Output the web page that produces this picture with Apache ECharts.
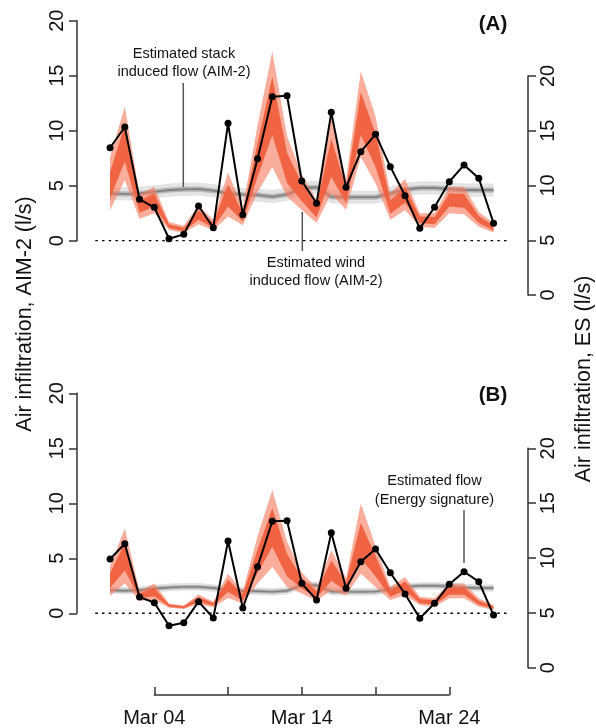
<!DOCTYPE html>
<html>
<head>
<meta charset="utf-8">
<script src="https://cdn.jsdelivr.net/npm/echarts@6/dist/echarts.min.js"></script>
<style>
html,body{margin:0;padding:0;background:#fff;}
#chart{width:596px;height:728px;}
</style>
</head>
<body>
<div id="chart"></div>
<script>
// ---- data ----
const dayLabels = ['Mar 01','Mar 02','Mar 03','Mar 04','Mar 05','Mar 06','Mar 07','Mar 08','Mar 09','Mar 10','Mar 11','Mar 12','Mar 13','Mar 14','Mar 15','Mar 16','Mar 17','Mar 18','Mar 19','Mar 20','Mar 21','Mar 22','Mar 23','Mar 24','Mar 25','Mar 26','Mar 27'];
const dayOfMonth = [1,2,3,4,5,6,7,8,9,10,11,12,13,14,15,16,17,18,19,20,21,22,23,24,25,26,27];
const xTicks = [4,9,14,19,24];
const xTickLabels = {4:'Mar 04', 14:'Mar 14', 24:'Mar 24'};
const yTicks = [0,5,10,15,20];
const plotRangeX = [0, 28];

// Panel A
const esA = [13.45,15.34,8.74,8.01,5.14,5.54,8.13,6.15,15.68,7.33,12.45,18.11,18.2,10.41,8.37,16.68,9.84,13.09,14.67,11.72,9.07,6.09,8.01,10.35,11.87,10.66,6.55];
const stackMedA = [4.3,4.25,4.3,4.45,4.6,4.67,4.7,4.55,4.3,4.2,4.15,4.0,4.2,4.8,4.85,4.0,3.95,3.95,3.95,4.3,4.65,4.8,4.8,4.7,4.6,4.6,4.6];
const stackLoA  = [3.7,3.65,3.7,3.85,4.0,4.07,4.1,3.95,3.7,3.6,3.55,3.4,3.6,4.2,4.25,3.4,3.35,3.35,3.35,3.7,4.05,4.2,4.2,4.1,4.0,4.0,4.0];
const stackHiA  = [4.9,4.85,4.9,5.05,5.2,5.27,5.3,5.15,4.9,4.8,4.75,4.6,4.8,5.4,5.45,4.6,4.55,4.55,4.55,4.9,5.25,5.4,5.4,5.3,5.2,5.2,5.2];
const windLoA   = [2.8,5.5,2.0,2.5,0.97,0.7,1.5,0.95,2.2,1.4,4.4,6.7,4.0,2.8,1.6,4.3,2.8,7.6,5.2,1.9,2.8,1.27,1.15,2.5,2.4,1.27,0.75];
const windHiA   = [7.6,12.2,4.2,4.9,1.7,1.35,3.2,1.9,6.2,3.0,10.5,17.2,9.5,6.0,3.7,11.3,5.5,15.4,11.3,4.3,5.6,2.5,2.5,4.9,4.9,2.6,1.6];
const windInLoA = [3.85,7.2,2.55,3.1,1.15,0.85,1.9,1.18,3.1,1.75,5.8,9.6,5.25,3.6,2.1,5.8,3.45,9.6,6.7,2.45,3.45,1.6,1.5,3.1,3.0,1.6,0.92];
const windInHiA = [6.25,10.5,3.65,4.3,1.5,1.18,2.75,1.65,5.1,2.55,8.85,14.85,8.0,5.2,3.15,9.3,4.8,13.5,9.75,3.65,4.85,2.2,2.15,4.3,4.25,2.25,1.35];

// Panel B
const esB = [9.91,11.3,6.44,5.93,3.83,4.10,6.02,4.53,11.55,5.44,9.21,13.35,13.4,7.69,6.17,12.31,7.24,9.66,10.82,8.66,6.72,4.5,5.87,7.6,8.75,7.84,4.8];
const stackMedB = [2.1,2.05,2.1,2.25,2.35,2.4,2.4,2.3,2.1,2.05,2.0,1.95,2.05,2.55,2.55,1.97,1.95,1.95,1.97,2.2,2.4,2.5,2.5,2.45,2.35,2.3,2.3];
const stackLoB  = [1.75,1.7,1.75,1.9,2.0,2.05,2.05,1.95,1.75,1.7,1.65,1.6,1.7,2.2,2.2,1.62,1.6,1.6,1.62,1.85,2.05,2.15,2.15,2.1,2.0,1.95,1.95];
const stackHiB  = [2.45,2.4,2.45,2.6,2.7,2.75,2.75,2.65,2.45,2.4,2.35,2.3,2.4,2.9,2.9,2.32,2.3,2.3,2.32,2.55,2.75,2.85,2.85,2.8,2.7,2.65,2.65];
const windLoB   = [1.6,2.7,1.15,1.2,0.5,0.38,0.85,0.55,1.4,0.9,2.7,4.2,2.4,1.8,1.15,2.1,1.65,3.6,2.4,1.2,1.65,0.75,0.6,1.36,1.36,0.6,0.3];
const windHiB   = [4.3,7.7,2.0,2.7,0.9,0.72,1.7,1.05,3.6,2.0,7.0,11.2,6.5,3.7,2.3,5.75,3.2,10.0,6.1,2.4,3.3,1.5,1.36,2.7,2.7,1.36,0.75];
const windInLoB = [2.3,3.9,1.38,1.55,0.6,0.47,1.05,0.68,1.95,1.15,3.65,6.05,3.35,2.25,1.42,2.95,2.02,5.0,3.35,1.5,2.08,0.92,0.8,1.68,1.68,0.78,0.42];
const windInHiB = [3.65,6.4,1.8,2.3,0.8,0.63,1.48,0.93,3.05,1.7,5.8,9.55,5.4,3.2,2.0,4.8,2.8,8.2,5.2,2.1,2.9,1.3,1.18,2.35,2.35,1.15,0.65];

const zeroLineX = [0, 28];
const zeroLineY = [0, 0];

// ---- chart ----
const FONT = '"Liberation Sans", Arial, Helvetica, sans-serif';
const AXIS_COLOR = '#333';
const chart = echarts.init(document.getElementById('chart'), null, {renderer:'canvas'});

const pairs = (ys) => dayOfMonth.map((d, i) => [d, ys[i]]);

function band(xi, yi, lo, hi, color, z) {
  return {type:'custom', xAxisIndex:xi, yAxisIndex:yi, silent:true, z:z,
    data: dayOfMonth.map((d,i)=>[d, lo[i], hi[i]]),
    encode:{x:0, y:[1,2]},
    renderItem: function(params, api) {
      if (params.dataIndex !== 0) return null;
      const top = [], bot = [];
      for (let i = 0; i < dayOfMonth.length; i++) {
        top.push(api.coord([dayOfMonth[i], hi[i]]));
        bot.push(api.coord([dayOfMonth[i], lo[i]]));
      }
      return {type:'polygon', shape:{points: top.concat(bot.reverse())}, style:{fill:color}};
    }};
}
function medLine(xi, yi, ys, color, width, z) {
  return {type:'line', xAxisIndex:xi, yAxisIndex:yi, data:pairs(ys), symbol:'none',
    lineStyle:{color:color, width:width}, silent:true, z:z};
}
function esLine(xi, yi, ys) {
  return {type:'line', xAxisIndex:xi, yAxisIndex:yi, data:pairs(ys), symbol:'circle', symbolSize:7,
    itemStyle:{color:'#000'}, lineStyle:{color:'#000', width:2}, z:20, silent:true};
}
function zeroLine(xi, yi) {
  return {type:'line', xAxisIndex:xi, yAxisIndex:yi, data:zeroLineX.map((x,i)=>[x, zeroLineY[i]]), symbol:'none',
    lineStyle:{color:'#000', width:1.4, type:[2.5,4.2]}, z:15, silent:true};
}

// data-day 0..28 spans the plotting region; Mar 04..Mar 24 ticks at 154.3..449.3
const gL = 95.3, gR = 596 - 508.3;
const grids = [
  {left:gL, right:gR, top:20.7, height:220},    // A left (AIM-2)
  {left:gL, right:gR, top:76, height:219},      // A right (ES)
  {left:gL, right:gR, top:393.3, height:220},   // B left
  {left:gL, right:gR, top:448.3, height:219.4}, // B right
  {left:154.3, right:596 - 449.3, top:660, height:38.2} // date axis
];

function xHidden(gi) {
  return {type:'value', gridIndex:gi, min:plotRangeX[0], max:plotRangeX[1], show:false,
    axisLine:{onZero:false}, splitLine:{show:false}};
}
const xDate = {type:'value', gridIndex:4, min:xTicks[0], max:xTicks[xTicks.length-1], interval:5,
  position:'bottom',
  axisLine:{show:true, onZero:false, lineStyle:{color:AXIS_COLOR, width:1.5}},
  axisTick:{show:true, inside:true, length:8, lineStyle:{color:AXIS_COLOR, width:1.5}},
  axisLabel:{show:true, margin:13, fontSize:20, fontFamily:FONT, color:'#111',
    formatter:(v)=> xTickLabels[v] || ''},
  splitLine:{show:false}};

function yAx(gi, pos, offset) {
  return {type:'value', gridIndex:gi, min:yTicks[0], max:yTicks[yTicks.length-1], interval:5,
    position:pos, offset:offset,
    axisLine:{show:true, onZero:false, lineStyle:{color:AXIS_COLOR, width:1.5}},
    axisTick:{show:true, length:8, lineStyle:{color:AXIS_COLOR, width:1.5}},
    axisLabel:{rotate:90, margin:10, fontSize:20, fontFamily:FONT, color:'#111'},
    splitLine:{show:false}};
}

const series = [];
// Panel A
series.push(band(0,0, stackLoA, stackHiA, '#e4e4e4', 2));
series.push(medLine(0,0, stackMedA, 'rgba(140,140,140,0.55)', 5, 3));
series.push(medLine(0,0, stackMedA, '#7e7e7e', 1.6, 3));
series.push(band(0,0, windLoA, windHiA, 'rgba(245,122,92,0.62)', 5));
series.push(band(0,0, windInLoA, windInHiA, 'rgba(240,96,62,0.95)', 6));
series.push(zeroLine(0,0));
series.push(esLine(1,1, esA));
// Panel B
series.push(band(2,2, stackLoB, stackHiB, '#e4e4e4', 2));
series.push(medLine(2,2, stackMedB, 'rgba(140,140,140,0.55)', 4, 3));
series.push(medLine(2,2, stackMedB, '#7e7e7e', 1.4, 3));
series.push(band(2,2, windLoB, windHiB, 'rgba(245,122,92,0.62)', 5));
series.push(band(2,2, windInLoB, windInHiB, 'rgba(240,96,62,0.95)', 6));
series.push(zeroLine(2,2));
series.push(esLine(3,3, esB));

const txt = (x, y, text, size, opts) => Object.assign({type:'text', x:x, y:y, z:50,
  style:{text:text, font: (opts && opts.bold ? 'bold ' : '') + size + 'px ' + FONT, fill:'#111',
    align:'center', verticalAlign:'middle', lineHeight: (opts && opts.lh) || size}}, (opts && opts.extra) || {});
const ln = (x1,y1,x2,y2) => ({type:'line', z:50, shape:{x1:x1,y1:y1,x2:x2,y2:y2}, style:{stroke:'#555', lineWidth:1.5}});

const option = {
  animation:false,
  backgroundColor:'#fff',
  grid: grids,
  xAxis: [xHidden(0), xHidden(1), xHidden(2), xHidden(3), xDate],
  yAxis: [yAx(0,'left', gL - 77), yAx(1,'right', 528 - 508.3), yAx(2,'left', gL - 77), yAx(3,'right', 528 - 508.3),
          {type:'value', gridIndex:4, min:0, max:1, show:false, axisLine:{onZero:false}, splitLine:{show:false}}],
  series: series,
  graphic: [
    txt(493, 24, '(A)', 20.5, {bold:true}),
    txt(493, 395, '(B)', 20.5, {bold:true}),
    txt(25, 314, 'Air infiltration, AIM-2 (l/s)', 21.5, {extra:{rotation:Math.PI/2}}),
    txt(584, 379, 'Air infiltration, ES (l/s)', 21.5, {extra:{rotation:Math.PI/2}}),
    txt(184, 63, 'Estimated stack\ninduced flow (AIM-2)', 14.5, {lh:18}),
    ln(183.3, 83, 183.3, 187),
    txt(316, 271.5, 'Estimated wind\ninduced flow (AIM-2)', 14.5, {lh:18}),
    ln(302.3, 212, 302.3, 251),
    txt(434.5, 490.5, 'Estimated flow\n(Energy signature)', 14.5, {lh:19}),
    ln(464, 510, 464, 563)
  ]
};
chart.setOption(option);
</script>
</body>
</html>
